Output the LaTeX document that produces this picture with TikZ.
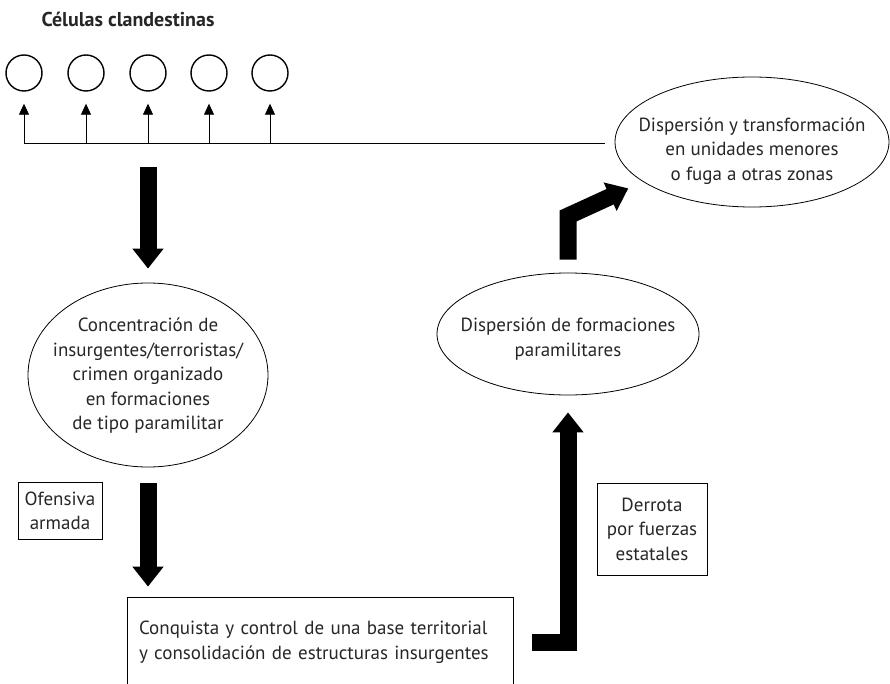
\documentclass[tikz,border=0pt]{standalone}
\usepackage{fontspec}
\setmainfont{PT Sans}
\usetikzlibrary{shapes.geometric,arrows.meta}

\newcommand{\diagfont}{\fontsize{19}{24.5}\selectfont}
\tikzstyle{cell}=[circle,draw,line width=1.4pt,minimum size=36pt,inner sep=0pt]
\tikzstyle{stage}=[ellipse,draw,line width=0.8pt,inner sep=0pt]
\tikzstyle{stagetext}=[align=center,inner sep=0pt,font=\diagfont,text=black!85]
\tikzstyle{notebox}=[rectangle,draw,line width=0.8pt,align=center,inner sep=0pt,font=\diagfont,text=black!85]
\tikzstyle{smallarrow}=[line width=0.8pt,-{Triangle[width=10pt,length=11pt]},shorten >=12pt]
\tikzstyle{bigarrow}=[line width=17pt,line join=miter,-{Triangle[width=30pt,length=20pt]}]

\begin{document}
\begin{tikzpicture}[x=1pt,y=-1pt]
    \useasboundingbox (0,0) rectangle (890,684);
    % cells
    \node[font=\bfseries\fontsize{20}{24}\selectfont,text=black!85] (title) at (128,19) {Células clandestinas};
    \foreach \i/\x in {1/24,2/86,3/148,4/209,5/270} {
        \node[cell] (c\i) at (\x,73) {};
        \coordinate (b\i) at (\x,143);
    }
    \coordinate (lineend) at (605,143);
    \draw[line width=0.8pt] (b1) -- (lineend);
    \foreach \i in {1,...,5}
    \draw[smallarrow] (b\i) -- (c\i.south);

    % stages
    \node[stage,minimum width=240pt,minimum height=184pt] (conc) at (148,375) {};
    \node[stagetext] (concT) at (148,376) {Concentración de\\insurgentes/terroristas/\\crimen organizado\\en formaciones\\de tipo paramilitar};
    \node[stage,minimum width=262pt,minimum height=122pt] (disp) at (568,334) {};
    \node[stagetext] (dispT) at (568,339) {Dispersión de formaciones\\paramilitares};
    \node[stage,minimum width=274pt,minimum height=130pt] (transf) at (752,142) {};
    \node[stagetext] (transfT) at (752,151) {Dispersión y transformación\\en unidades menores\\o fuga a otras zonas};
    \node[notebox,minimum width=386pt,minimum height=90pt,text width=362pt,align=left,inner xsep=12pt] (base) at (320,642) {Conquista y control de una base territorial\\y consolidación de estructuras insurgentes};
    \node[notebox,minimum width=84pt,minimum height=57pt] (ofen) at (60,511) {Ofensiva\\armada};
    \node[notebox,minimum width=110pt,minimum height=92pt] (derr) at (652,529) {Derrota\\por fuerzas\\estatales};

    % big arrows
    \coordinate (top) at (148,167);
    \coordinate (stub) at (532,642);
    \coordinate (bend) at (568,216);
    \draw[bigarrow,shorten >=14pt] (top) -- (conc.north);
    \draw[bigarrow,shorten <=16pt,shorten >=10pt] (conc.south) -- (base.north -| conc.south);
    \draw[bigarrow,shorten >=17pt] (stub) -| (disp.south);
    \draw[bigarrow,shorten <=13pt,shorten >=16pt] (disp.north) -- (bend) -- (transf.200);
\end{tikzpicture}
\end{document}
